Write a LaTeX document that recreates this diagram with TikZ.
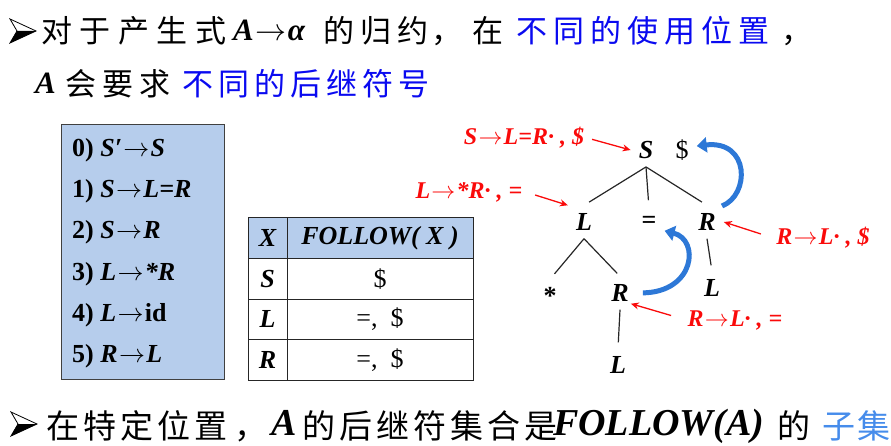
\documentclass[tikz,border=0pt]{standalone}
\usepackage{fix-cm}
\usepackage{fontspec}
\setmainfont{Liberation Serif}
\newfontfamily\cjk{Noto Sans CJK SC}
\usetikzlibrary{arrows.meta}
\definecolor{boxblue}{RGB}{182,205,236}
\definecolor{txtblue}{RGB}{10,10,240}
\definecolor{subblue}{RGB}{70,140,235}
\definecolor{arcblue}{RGB}{45,120,215}
\definecolor{lblred}{RGB}{250,10,10}
\newcommand\spc[2]{\def\pitchw{#1}\spcloop#2\relax}
\def\spcloop#1{\ifx#1\relax\else\makebox[\pitchw][l]{#1}\expandafter\spcloop\fi}
\newcommand\ar{\kern0.05em\resizebox{1em}{!}{$\rightarrow$}\kern0.05em}
\begin{document}
\begin{tikzpicture}[x=1pt,y=-1pt,
  cjkA/.style={anchor=base west, inner sep=0pt, font=\cjk\fontsize{31}{31}\selectfont},
  cjkC/.style={anchor=base west, inner sep=0pt, font=\cjk\fontsize{33}{33}\selectfont},
  latA/.style={anchor=base west, inner sep=0pt, font=\fontsize{31}{31}\selectfont\bfseries\itshape},
  latC/.style={anchor=base west, inner sep=0pt, font=\fontsize{38}{38}\selectfont\bfseries\itshape},
  gline/.style={anchor=base west, inner sep=0pt, font=\fontsize{26}{26}\selectfont\bfseries},
  cell/.style={draw=black!85, line width=1pt, inner sep=0pt, minimum height=40.5pt, font=\fontsize{26}{26}\selectfont},
  tnode/.style={inner sep=8pt, font=\fontsize{26}{26}\selectfont\bfseries\itshape},
  treeline/.style={draw=black!85, line width=1.2pt},
  lbl/.style={text=lblred, inner sep=3pt, font=\fontsize{24}{24}\selectfont\bfseries\itshape},
  redarr/.style={draw=lblred, line width=1.3pt, -{Stealth[length=8pt,width=7pt]}},
  bluearc/.style={draw=arcblue, line width=5pt, -{Triangle[length=10pt,width=15pt]}},
  marker/.style={line width=0.8pt}
]
\useasboundingbox (0,0) rectangle (891,446);

% ---- line 1 ----
\filldraw[marker, fill=white] (10,19) -- (36,31) -- (10,43) -- (17,31) -- cycle;
\fill (17,31) -- (36,31) -- (10,43) -- cycle;
\node[cjkA] (l1a) at (41,43) {\spc{38.5pt}{对于产生式}};
\node[latA] (l1b) at (233,41) {A\ar α};
\node[cjkA] (l1c) at (323,43) {\spc{37pt}{的归约}};
\node[cjkA] (l1d) at (431,43) {，};
\node[cjkA] (l1e) at (472,43) {在};
\node[cjkA, text=txtblue] (l1f) at (516,43) {\spc{37pt}{不同的使用位置}};
\node[cjkA] (l1g) at (781,43) {，};

% ---- line 2 ----
\node[latA] (l2a) at (35,94) {A};
\node[cjkA] (l2b) at (65,96) {\spc{37pt}{会要求}};
\node[cjkA, text=txtblue] (l2c) at (182,96) {\spc{36pt}{不同的后继符号}};

% ---- grammar box ----
\node[draw=black!75, line width=1pt, fill=boxblue, minimum width=163pt, minimum height=254pt, inner sep=0pt] (gbox) at (142.5,252) {};
\node[gline] (g0) at (72,157) {0) \itshape S′\ar S};
\node[gline] (g1) at (72,198) {1) \itshape S\ar L=R};
\node[gline] (g2) at (72,239) {2) \itshape S\ar R};
\node[gline] (g3) at (72,280) {3) \itshape L\ar *R};
\node[gline] (g4) at (72,321) {4) \itshape L\ar\upshape id};
\node[gline] (g5) at (72,362) {5) \itshape R\ar L};

% ---- FOLLOW table ----
\node[cell, fill=boxblue, minimum width=39pt, font=\fontsize{26}{26}\selectfont\bfseries\itshape] (hx) at (267.5,238.25) {X};
\node[cell, fill=boxblue, minimum width=186pt, font=\fontsize{26}{26}\selectfont\bfseries\itshape] (hf) at (380,238.25) {FOLLOW( X )};
\node[cell, minimum width=39pt, font=\fontsize{26}{26}\selectfont\bfseries\itshape] (rs) at (267.5,278.75) {S};
\node[cell, minimum width=186pt] (fs) at (380,278.75) {\$};
\node[cell, minimum width=39pt, font=\fontsize{26}{26}\selectfont\bfseries\itshape] (rl) at (267.5,319.25) {L};
\node[cell, minimum width=186pt] (fl) at (380,319.25) {=,\ \ \$};
\node[cell, minimum width=39pt, font=\fontsize{26}{26}\selectfont\bfseries\itshape] (rr) at (267.5,359.75) {R};
\node[cell, minimum width=186pt] (fr) at (380,359.75) {=,\ \ \$};

% ---- parse tree ----
\node[tnode] (S) at (646,150) {S};
\node[tnode, font=\fontsize{26}{26}\selectfont] (dollar) at (682,150) {\$};
\node[tnode] (L1) at (584,222) {L};
\node[tnode, font=\fontsize{26}{26}\selectfont\bfseries] (eq) at (649,222.5) {=};
\node[tnode] (R1) at (707,222) {R};
\node[tnode, font=\fontsize{26}{26}\selectfont\bfseries] (star) at (550,296) {*};
\node[tnode] (R2) at (620,293) {R};
\node[tnode] (L2) at (618,365) {L};
\node[tnode] (L3) at (712,288) {L};

\draw[treeline, shorten >=6pt] (S.south) -- (L1.north);
\draw[treeline, shorten >=8pt] (S.south) -- (eq.north);
\draw[treeline, shorten >=6pt] (S.south) -- (R1.north);
\draw[treeline, shorten >=7pt] (L1.south) -- (star.north);
\draw[treeline, shorten >=4pt] (L1.south) -- (R2.north);
\draw[treeline, shorten >=6pt] (R2.south) -- (L2.north);
\draw[treeline, shorten >=6pt] (R1.south) -- (L3.north);

% ---- red labels ----
\node[lbl] (lab1) at (524,138) {S\ar L=R· , \$};
\node[lbl] (lab2) at (469,192) {L\ar *R· , =};
\node[lbl] (lab3) at (823,238) {R\ar L· , \$};
\node[lbl, inner sep=1pt] (lab4) at (735,320) {R\ar L· , =};
\draw[redarr, shorten <=5pt] (lab1.east) -- (S.west);
\draw[redarr, shorten <=10pt] (lab2.east) -- (L1.north west);
\draw[redarr, shorten <=13pt] (lab3.west) -- (R1.east);
\draw[redarr, shorten <=16pt] (lab4.west) -- ([xshift=-6pt,yshift=6pt]R2.south east);

% ---- blue arcs ----
\draw[bluearc, shorten <=-2pt] (R1.north east) .. controls (750,195) and (750,140) .. ([yshift=4pt]dollar.east);
\draw[bluearc, shorten <=6pt] (R2.east) .. controls (695,292) and (700,240) .. ([yshift=6pt]eq.south east);

% ---- line 3 ----
\begin{scope}[shift={(1,393)}]
\filldraw[marker, fill=white] (10,19) -- (36,31) -- (10,43) -- (17,31) -- cycle;
\fill (17,31) -- (36,31) -- (10,43) -- cycle;
\end{scope}
\node[cjkC] (l3a) at (46,438) {\spc{37pt}{在特定位置}};
\node[cjkC] (l3b) at (234,438) {，};
\node[latC] (l3c) at (271,435) {A};
\node[cjkC] (l3d) at (302,438) {\spc{37pt}{的后继符集合是}};
\node[latC] (l3e) at (553,435) {FOLLOW(A)};
\node[cjkC] (l3f) at (777,438) {的};
\node[cjkC, text=subblue] (l3g) at (822,438) {\spc{35pt}{子集}};
\end{tikzpicture}
\end{document}
